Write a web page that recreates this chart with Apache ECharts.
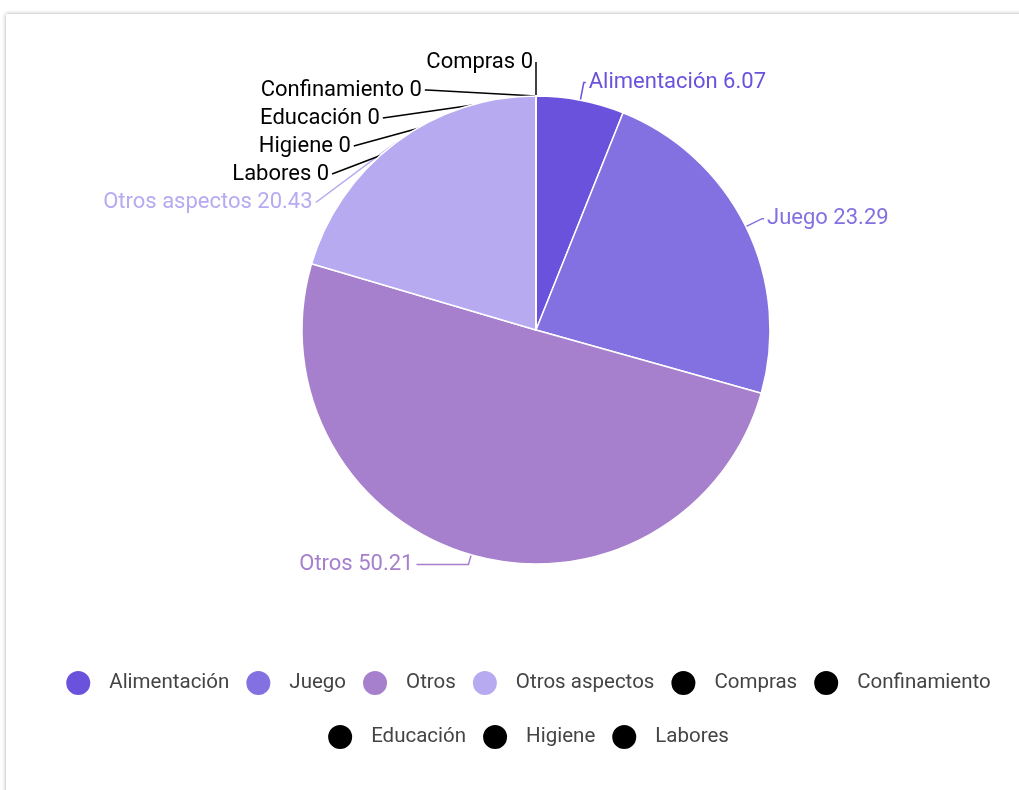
<!DOCTYPE html>
<html>
<head>
<meta charset="utf-8">
<script src="https://cdn.jsdelivr.net/npm/echarts@6/dist/echarts.min.js"></script>
<style>
  html, body { margin: 0; padding: 0; width: 1019px; height: 790px; overflow: hidden; background: #fff; }
  .card {
    position: absolute; left: 6px; top: 14px; width: 1100px; height: 900px;
    background: #fff; box-shadow: 0 0 4px rgba(0, 0, 0, 0.35);
  }
  /* wider than the window so 'center' lands where the reference legend sits */
  #chart { position: absolute; left: 0; top: 0; width: 1055px; height: 790px; }
</style>
</head>
<body>
<div class="card"></div>
<div id="chart"></div>
<script>
const categories = ['Alimentación', 'Juego', 'Otros', 'Otros aspectos', 'Compras', 'Confinamiento', 'Educación', 'Higiene', 'Labores']
const values = [6.07, 23.29, 50.21, 20.43, 0, 0, 0, 0, 0]
const colors = ['#6b52dd', '#8370e1', '#a680cc', '#b7aaf1', '#000', '#000', '#000', '#000', '#000']

const legendRow1 = categories.slice(0, 6)
const legendRow2 = categories.slice(6)

const chart = echarts.init(document.getElementById('chart'))

const legendBase = {
  orient: 'horizontal',
  left: 'center',
  icon: 'circle',
  itemWidth: 26,
  itemHeight: 26,
  itemGap: 15,
  textStyle: {
    fontFamily: 'Roboto',
    fontSize: 20.5,
    color: '#444',
    padding: [0, 0, 0, 13]
  }
}

// a couple of label lines need their own length to sit like the original
const lineTweaks = {
  'Compras': { length: 34, length2: 0 },
  'Otros': { length: 10, length2: 52 }
}

const pieData = categories.map((name, i) => {
  const item = { name, value: values[i] }
  if (lineTweaks[name]) item.labelLine = lineTweaks[name]
  return item
})

chart.setOption({
  color: colors,
  textStyle: { fontFamily: 'Roboto' },
  legend: [
    Object.assign({}, legendBase, { top: 664, data: legendRow1 }),
    Object.assign({}, legendBase, { top: 718, data: legendRow2 })
  ],
  series: [{
    type: 'pie',
    center: [536, 330],
    radius: 234,
    startAngle: 90,
    clockwise: true,
    itemStyle: { borderColor: '#fff', borderWidth: 1.5 },
    label: {
      show: true,
      color: 'inherit',
      fontFamily: 'Roboto',
      fontSize: 22,
      lineHeight: 26,
      distanceToLabelLine: 3,
      formatter: '{b} {c}'
    },
    labelLine: { length: 18, length2: 2, lineStyle: { width: 1.5 } },
    data: pieData
  }]
})
</script>
</body>
</html>
